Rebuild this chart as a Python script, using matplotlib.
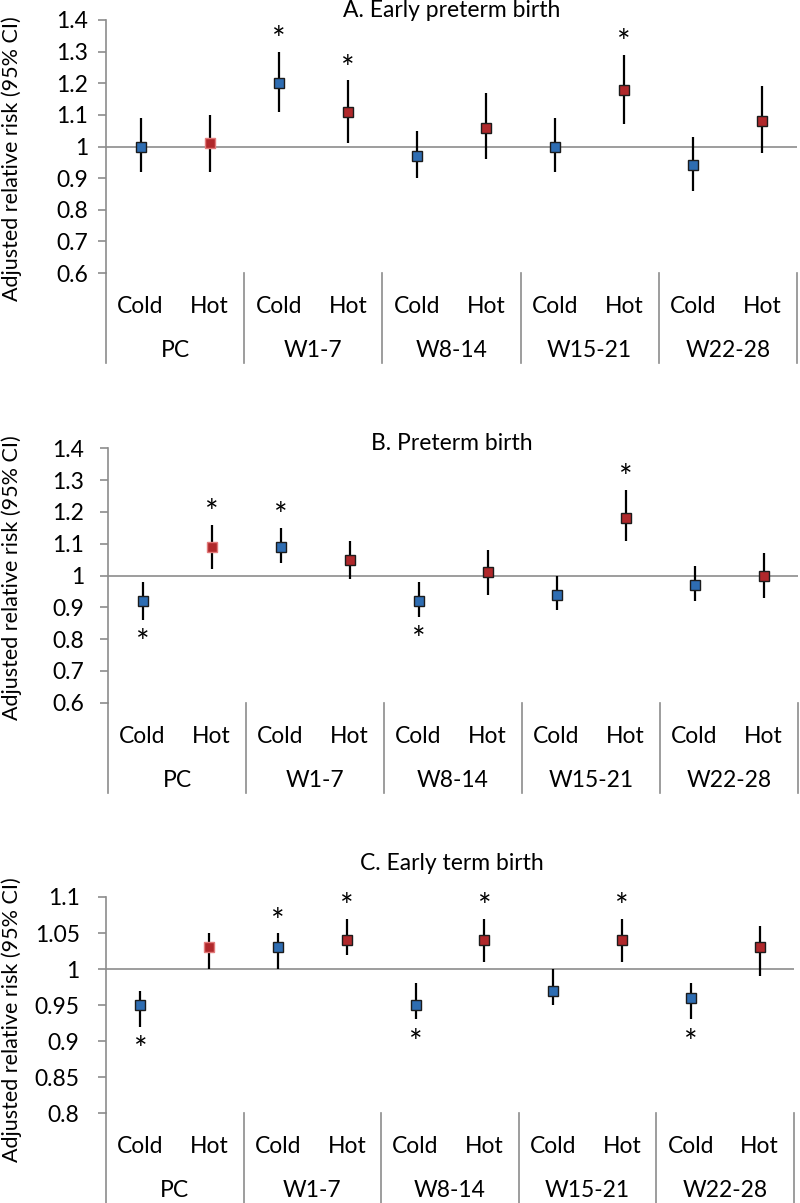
import matplotlib
matplotlib.use('Agg')
import matplotlib.pyplot as plt

plt.rcParams['font.family'] = ['Lato', 'DejaVu Sans']

periods = ['PC', 'W1-7', 'W8-14', 'W15-21', 'W22-28']
exposures = ['Cold', 'Hot']

# A. Early preterm birth
rr_a = [1.00, 1.01, 1.20, 1.11, 0.97, 1.06, 1.00, 1.18, 0.94, 1.08]
lo_a = [0.92, 0.92, 1.11, 1.01, 0.90, 0.96, 0.92, 1.07, 0.86, 0.98]
hi_a = [1.09, 1.10, 1.30, 1.21, 1.05, 1.17, 1.09, 1.29, 1.03, 1.19]
sig_a = [0, 0, 1, 1, 0, 0, 0, 1, 0, 0]

# B. Preterm birth
rr_b = [0.92, 1.09, 1.09, 1.05, 0.92, 1.01, 0.94, 1.18, 0.97, 1.00]
lo_b = [0.86, 1.02, 1.04, 0.99, 0.87, 0.94, 0.89, 1.11, 0.92, 0.93]
hi_b = [0.98, 1.16, 1.15, 1.11, 0.98, 1.08, 1.00, 1.27, 1.03, 1.07]
sig_b = [-1, 1, 1, 0, -1, 0, 0, 1, 0, 0]

# C. Early term birth
rr_c = [0.95, 1.03, 1.03, 1.04, 0.95, 1.04, 0.97, 1.04, 0.96, 1.03]
lo_c = [0.92, 1.00, 1.00, 1.02, 0.93, 1.01, 0.95, 1.01, 0.93, 0.99]
hi_c = [0.97, 1.05, 1.05, 1.07, 0.98, 1.07, 1.00, 1.07, 0.98, 1.06]
sig_c = [-1, 0, 1, 1, -1, 1, 0, 1, -1, 0]

W, H = 800, 1203
fig = plt.figure(figsize=(W / 100, H / 100), dpi=100)

BLUE = '#2e6db2'
RED = '#b0282b'
GRAY = '#8c8c8c'
FS = 16.5


def panel(rr, lo, hi, sig, left, right, top, bottom, ylim, yticks, ylabels, pad, ylab_y):
    ax = fig.add_axes([left / W, 1 - bottom / H, (right - left) / W, (bottom - top) / H])
    n = len(rr)
    xs = list(range(n))
    ax.set_xlim(-0.5, n - 0.5)
    ax.set_ylim(*ylim)
    ax.axhline(1, color=GRAY, lw=1.2, zorder=1)
    for i in xs:
        col = BLUE if i % 2 == 0 else RED
        edge = '#1b1b1b'
        if i == 1:
            edge = '#e27a7a'
        ax.plot([i, i], [lo[i], hi[i]], color='black', lw=1.6, zorder=2, solid_capstyle='butt')
        ax.plot(i, rr[i], 's', ms=7.6, mfc=col, mec=edge, mew=1.0, zorder=3)
        if sig[i] > 0:
            ax.annotate('*', (i, hi[i]), xytext=(0, 1), textcoords='offset points',
                        ha='center', va='baseline', fontsize=23)
        elif sig[i] < 0:
            ax.annotate('*', (i, lo[i]), xytext=(0, -24), textcoords='offset points',
                        ha='center', va='baseline', fontsize=23)

    for s in ['top', 'right', 'bottom']:
        ax.spines[s].set_visible(False)
    ax.spines['left'].set_color(GRAY)
    ax.spines['left'].set_linewidth(1.2)
    ax.set_yticks(yticks)
    ax.set_yticklabels(ylabels)
    ax.tick_params(axis='y', length=6, width=1.2, color=GRAY, pad=pad, labelsize=FS)
    ax.set_xticks([])

    # two-level category axis below the plot area
    ph = bottom - top
    ext = 90 / ph
    ax.plot([0, 0], [0, -ext], transform=ax.transAxes, color=GRAY, lw=1.2, clip_on=False)
    for k in range(1, len(periods) + 1):
        ax.plot([k / len(periods)] * 2, [0, -ext], transform=ax.transAxes,
                color=GRAY, lw=1.2, clip_on=False)
    tr = ax.get_xaxis_transform()
    for i in xs:
        ax.text(i, -40 / ph, exposures[i % 2], transform=tr, ha='center', va='baseline', fontsize=FS)
    for k, p in enumerate(periods):
        ax.text(2 * k + 0.5, -84 / ph, p, transform=tr, ha='center', va='baseline', fontsize=FS)

    fig.text(12 / W, 1 - ylab_y / H, 'Adjusted relative risk (95% CI)', rotation=90,
             ha='center', va='center', fontsize=15.5)
    return ax


panel(rr_a, lo_a, hi_a, sig_a, 106, 797, 20, 273, (0.6, 1.4),
      [0.6, 0.7, 0.8, 0.9, 1.0, 1.1, 1.2, 1.3, 1.4],
      ['0.6', '0.7', '0.8', '0.9', '1', '1.1', '1.2', '1.3', '1.4'], 7, 159)
panel(rr_b, lo_b, hi_b, sig_b, 108, 798, 448.3, 702.7, (0.6, 1.4),
      [0.6, 0.7, 0.8, 0.9, 1.0, 1.1, 1.2, 1.3, 1.4],
      ['0.6', '0.7', '0.8', '0.9', '1', '1.1', '1.2', '1.3', '1.4'], 11, 578)
panel(rr_c, lo_c, hi_c, sig_c, 106, 794, 897, 1113, (0.8, 1.1),
      [0.8, 0.85, 0.9, 0.95, 1.0, 1.05, 1.1],
      ['0.8', '0.85', '0.9', '0.95', '1', '1.05', '1.1'], 13, 1020)

fig.text(452 / W, 1 - 17 / H, 'A. Early preterm birth', ha='center', va='baseline', fontsize=16.5)
fig.text(452 / W, 1 - 450 / H, 'B. Preterm birth', ha='center', va='baseline', fontsize=16.5)
fig.text(452 / W, 1 - 870 / H, 'C. Early term birth', ha='center', va='baseline', fontsize=16.5)

plt.savefig('out.png', dpi=100)
